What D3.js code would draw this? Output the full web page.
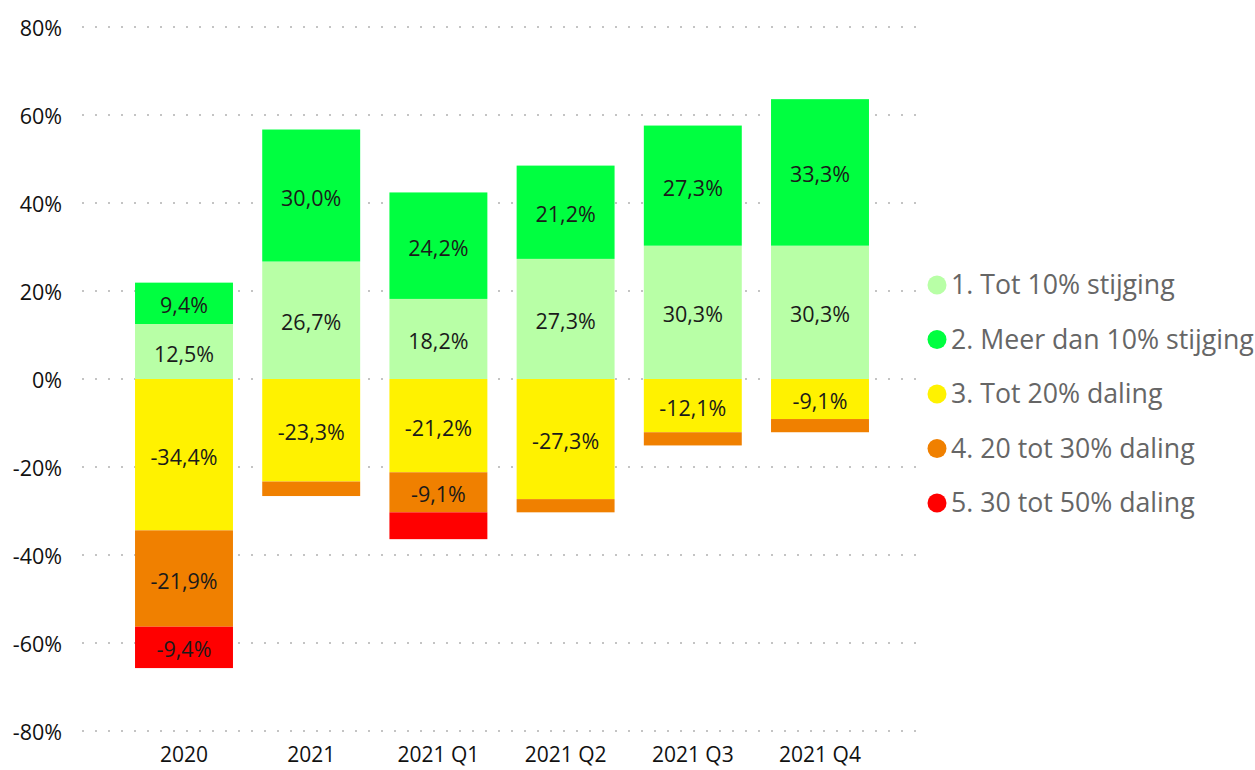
<!DOCTYPE html>
<html>
<head>
<meta charset="utf-8">
<script src="https://cdn.jsdelivr.net/npm/d3@7"></script>
<style>
  body { margin: 0; background: #fff; }
  text { font-family: "Open Sans", "Noto Sans", sans-serif; }
</style>
</head>
<body>
<div id="chart"></div>
<script>
// categories and series (percentages)
var periods = ["2020", "2021", "2021 Q1", "2021 Q2", "2021 Q3", "2021 Q4"];
var seriesNames = ["1. Tot 10% stijging", "2. Meer dan 10% stijging", "3. Tot 20% daling", "4. 20 tot 30% daling", "5. 30 tot 50% daling"];
var seriesColors = ["#b8ffa6", "#00ff40", "#fff200", "#f08000", "#ff0000"];
var totTienStijging   = [12.5, 26.7, 18.2, 27.3, 30.3, 30.3];
var meerTienStijging  = [9.4, 30.0, 24.2, 21.2, 27.3, 33.3];
var totTwintigDaling  = [-34.4, -23.3, -21.2, -27.3, -12.1, -9.1];
var twintigDertigDaling = [-21.9, -3.3, -9.1, -3.0, -3.0, -3.0];
var dertigVijftigDaling = [-9.4, 0, -6.1, 0, 0, 0];
var yTicks = [80, 60, 40, 20, 0, -20, -40, -60, -80];

var series = [totTienStijging, meerTienStijging, totTwintigDaling, twintigDertigDaling, dertigVijftigDaling];

var width = 1255, height = 770;

var svg = d3.select("#chart")
  .append("svg")
    .attr("width", width)
    .attr("height", height);

var x = d3.scaleBand()
  .domain(periods)
  .range([120.4, 883.6])
  .paddingInner(0.23)
  .paddingOuter(0.115);

var y = d3.scaleLinear()
  .domain([-80, 80])
  .range([731, 27]);

// dotted gridlines
svg.append("g")
  .selectAll("line")
  .data(yTicks)
  .enter().append("line")
    .attr("x1", 82)
    .attr("x2", 918)
    .attr("y1", function(d) { return y(d); })
    .attr("y2", function(d) { return y(d); })
    .attr("stroke", "#c4c4c4")
    .attr("stroke-width", 2)
    .attr("stroke-dasharray", "2,11");

// y axis labels
svg.append("g")
  .selectAll("text")
  .data(yTicks)
  .enter().append("text")
    .attr("x", 62)
    .attr("y", function(d) { return y(d) + 1; })
    .attr("dy", "0.35em")
    .attr("text-anchor", "end")
    .attr("font-size", 21.5)
    .attr("fill", "#111")
    .text(function(d) { return d + "%"; });

// x axis labels
svg.append("g")
  .selectAll("text")
  .data(periods)
  .enter().append("text")
    .attr("x", function(d) { return x(d) + x.bandwidth() / 2; })
    .attr("y", 755)
    .attr("dy", "0.35em")
    .attr("text-anchor", "middle")
    .attr("font-size", 21)
    .attr("fill", "#111")
    .text(function(d) { return d; });

// build stacked segments: positives stack up, negatives stack down
var segments = [];
periods.forEach(function(p, i) {
  var pos = 0, neg = 0;
  series.forEach(function(s, k) {
    var v = s[i];
    if (v === 0) return;
    var y0, y1;
    if (v > 0) { y0 = pos; y1 = pos + v; pos = y1; }
    else { y0 = neg; y1 = neg + v; neg = y1; }
    segments.push({period: p, k: k, v: v, y0: y0, y1: y1});
  });
});

var fmt = function(v) { return v.toFixed(1).replace(".", ",") + "%"; };

svg.append("g")
  .selectAll("rect")
  .data(segments)
  .enter().append("rect")
    .attr("x", function(d) { return x(d.period); })
    .attr("width", x.bandwidth())
    .attr("y", function(d) { return y(Math.max(d.y0, d.y1)); })
    .attr("height", function(d) { return Math.abs(y(d.y0) - y(d.y1)); })
    .attr("fill", function(d) { return seriesColors[d.k]; });

// data labels, only where the segment is tall enough
svg.append("g")
  .selectAll("text")
  .data(segments.filter(function(d) { return Math.abs(d.v) >= 8; }))
  .enter().append("text")
    .attr("x", function(d) { return x(d.period) + x.bandwidth() / 2; })
    .attr("y", function(d) { return y((d.y0 + d.y1) / 2) + 2.5; })
    .attr("dy", "0.35em")
    .attr("text-anchor", "middle")
    .attr("font-size", 21.5)
    .attr("fill", "#1a1a1a")
    .text(function(d) { return fmt(d.v); });

// legend
var legend = svg.append("g")
  .selectAll("g")
  .data(seriesNames)
  .enter().append("g")
    .attr("transform", function(d, i) { return "translate(937," + (285 + i * 54.5) + ")"; });
legend.append("circle")
  .attr("r", 9.5)
  .attr("fill", function(d, i) { return seriesColors[i]; });
legend.append("text")
  .attr("x", 14)
  .attr("dy", "0.35em")
  .attr("font-size", 26.7)
  .attr("fill", "#666")
  .text(function(d) { return d; });
</script>
</body>
</html>
